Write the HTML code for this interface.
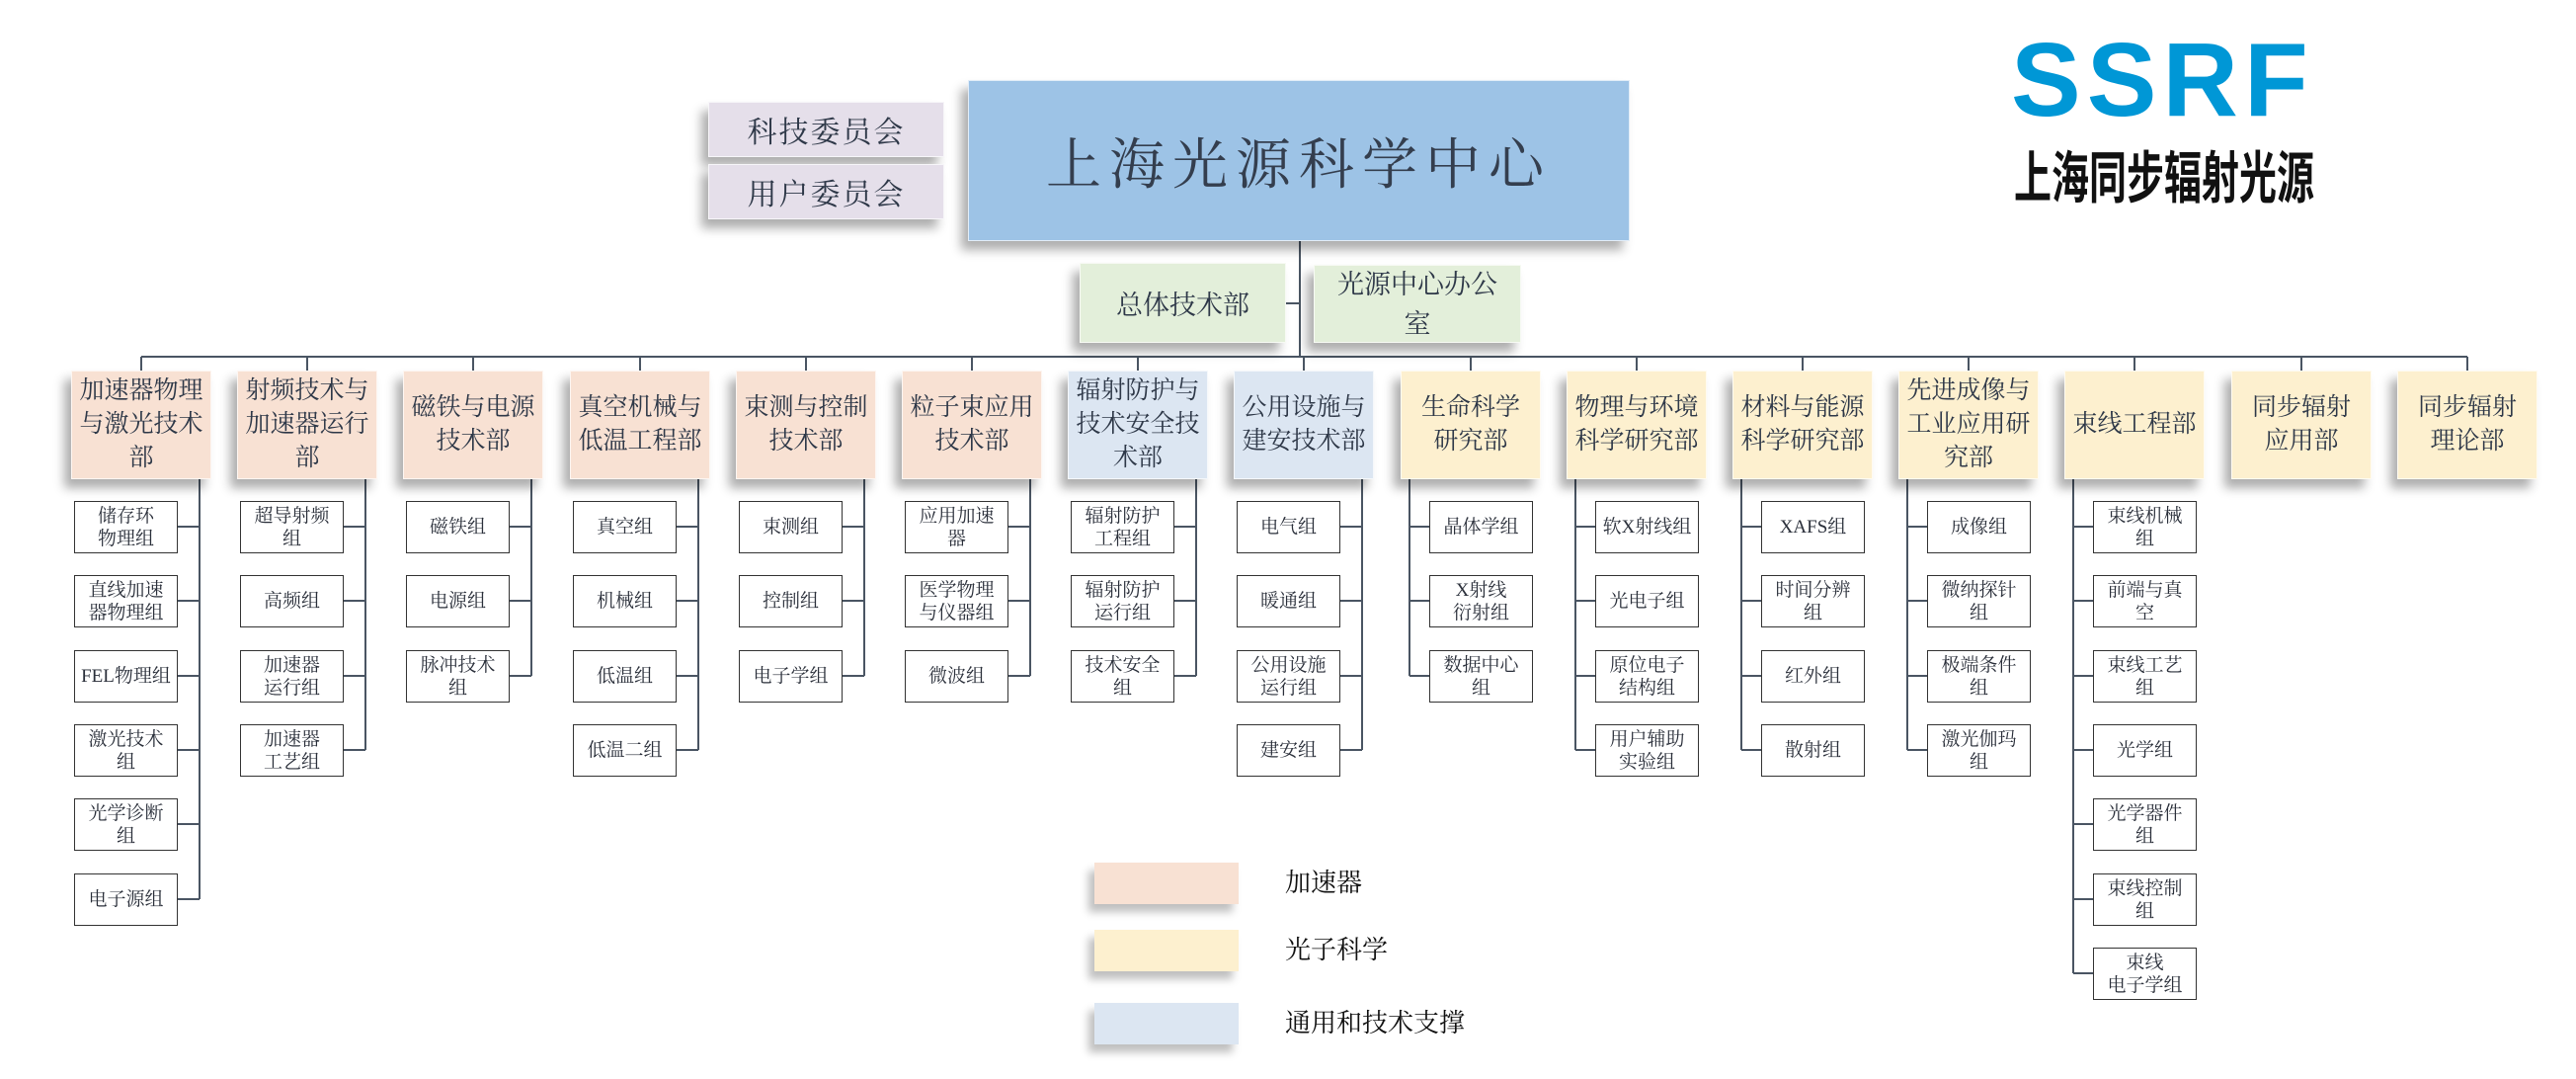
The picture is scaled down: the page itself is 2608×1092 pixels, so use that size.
<!DOCTYPE html>
<html><head><meta charset="utf-8">
<style>
body{margin:0;width:2608px;height:1092px;background:#fff;position:relative;overflow:hidden;font-family:"Liberation Serif","Noto Serif CJK SC",serif;color:#2e3848}
.b{position:absolute;display:flex;align-items:center;justify-content:center;text-align:center;box-sizing:border-box;box-shadow:-7px 9px 10px rgba(0,0,0,.32);border:1px solid rgba(255,255,255,.7)}
.d{width:142px;height:110px;top:375px;font-size:25px;line-height:34px}
.p{background:#f8e1d3}.u{background:#dce6f2}.y{background:#fdf0cf}
.g{position:absolute;width:105px;height:53px;border:1.5px solid #333;background:#fff;box-sizing:border-box;display:flex;align-items:center;justify-content:center;text-align:center;font-size:19px;line-height:23px;color:#2a2f3a}
svg{position:absolute;left:0;top:0}
.lg{position:absolute;width:146px;height:42px;box-shadow:-6px 8px 8px rgba(0,0,0,.25)}
.lt{position:absolute;left:1301px;font-size:26px;color:#111;line-height:42px}
</style></head><body>
<svg width="2608" height="1092">
<g stroke="#4a5563" stroke-width="2" fill="none">
<path d="M143 361H2498"/>
<path d="M1316 244V361M1302 307H1316M932 132H954"/>
<path d="M143 361V375M311 361V375M479 361V375M648 361V375M816 361V375M984 361V375M1152 361V375M1320 361V375M1489 361V375M1657 361V375M1825 361V375M1993 361V375M2161 361V375M2330 361V375M2498 361V375"/>
<path d="M202 485V910M180 533H202M180 608H202M180 684H202M180 759H202M180 834H202M180 910H202"/>
<path d="M370 485V759M348 533H370M348 608H370M348 684H370M348 759H370"/>
<path d="M538 485V684M516 533H538M516 608H538M516 684H538"/>
<path d="M707 485V759M685 533H707M685 608H707M685 684H707M685 759H707"/>
<path d="M875 485V684M853 533H875M853 608H875M853 684H875"/>
<path d="M1043 485V684M1021 533H1043M1021 608H1043M1021 684H1043"/>
<path d="M1211 485V684M1189 533H1211M1189 608H1211M1189 684H1211"/>
<path d="M1379 485V759M1357 533H1379M1357 608H1379M1357 684H1379M1357 759H1379"/>
<path d="M1427 485V684M1427 533H1447M1427 608H1447M1427 684H1447"/>
<path d="M1595 485V759M1595 533H1615M1595 608H1615M1595 684H1615M1595 759H1615"/>
<path d="M1763 485V759M1763 533H1783M1763 608H1783M1763 684H1783M1763 759H1783"/>
<path d="M1931 485V759M1931 533H1951M1931 608H1951M1931 684H1951M1931 759H1951"/>
<path d="M2099 485V985M2099 533H2119M2099 608H2119M2099 684H2119M2099 759H2119M2099 834H2119M2099 910H2119M2099 985H2119"/>
</g></svg>

<div class="b" style="left:980px;top:81px;width:670px;height:163px;background:#9dc3e6;font-size:56px;letter-spacing:8px;color:#343e4e">上海光源科学中心</div>
<div class="b" style="left:717px;top:103px;width:239px;height:56px;background:#e5dfea;font-size:30px;letter-spacing:2px">科技委员会</div>
<div class="b" style="left:717px;top:166px;width:239px;height:56px;background:#e5dfea;font-size:30px;letter-spacing:2px">用户委员会</div>
<div class="b" style="left:1093px;top:266px;width:209px;height:81px;background:#e3efda;font-size:27px">总体技术部</div>
<div class="b" style="left:1330px;top:268px;width:210px;height:79px;background:#e3efda;font-size:27px;line-height:40px">光源中心办公<br>室</div>

<div style="position:absolute;left:2036px;top:28px;font-family:'Liberation Sans',sans-serif;font-weight:bold;font-size:106px;line-height:106px;color:#0097d6;letter-spacing:6px">SSRF</div>
<div style="position:absolute;left:2039px;top:145px;width:304px;height:62px;font-family:'Noto Sans CJK SC',sans-serif;font-weight:bold;font-size:38px;line-height:62px;color:#111;transform:scaleY(1.5);transform-origin:center;white-space:nowrap;text-align:center">上海同步辐射光源</div>

<div class="b d p" style="left:72px">加速器物理<br>与激光技术<br>部</div>
<div class="b d p" style="left:240px">射频技术与<br>加速器运行<br>部</div>
<div class="b d p" style="left:408px">磁铁与电源<br>技术部</div>
<div class="b d p" style="left:577px">真空机械与<br>低温工程部</div>
<div class="b d p" style="left:745px">束测与控制<br>技术部</div>
<div class="b d p" style="left:913px">粒子束应用<br>技术部</div>
<div class="b d u" style="left:1081px">辐射防护与<br>技术安全技<br>术部</div>
<div class="b d u" style="left:1249px">公用设施与<br>建安技术部</div>
<div class="b d y" style="left:1418px">生命科学<br>研究部</div>
<div class="b d y" style="left:1586px">物理与环境<br>科学研究部</div>
<div class="b d y" style="left:1754px">材料与能源<br>科学研究部</div>
<div class="b d y" style="left:1922px">先进成像与<br>工业应用研<br>究部</div>
<div class="b d y" style="left:2090px">束线工程部</div>
<div class="b d y" style="left:2259px">同步辐射<br>应用部</div>
<div class="b d y" style="left:2427px">同步辐射<br>理论部</div>

<div class="g" style="left:75px;top:507px">储存环<br>物理组</div>
<div class="g" style="left:75px;top:582px">直线加速<br>器物理组</div>
<div class="g" style="left:75px;top:658px">FEL物理组</div>
<div class="g" style="left:75px;top:733px">激光技术<br>组</div>
<div class="g" style="left:75px;top:808px">光学诊断<br>组</div>
<div class="g" style="left:75px;top:884px">电子源组</div>

<div class="g" style="left:243px;top:507px">超导射频<br>组</div>
<div class="g" style="left:243px;top:582px">高频组</div>
<div class="g" style="left:243px;top:658px">加速器<br>运行组</div>
<div class="g" style="left:243px;top:733px">加速器<br>工艺组</div>

<div class="g" style="left:411px;top:507px">磁铁组</div>
<div class="g" style="left:411px;top:582px">电源组</div>
<div class="g" style="left:411px;top:658px">脉冲技术<br>组</div>

<div class="g" style="left:580px;top:507px">真空组</div>
<div class="g" style="left:580px;top:582px">机械组</div>
<div class="g" style="left:580px;top:658px">低温组</div>
<div class="g" style="left:580px;top:733px">低温二组</div>

<div class="g" style="left:748px;top:507px">束测组</div>
<div class="g" style="left:748px;top:582px">控制组</div>
<div class="g" style="left:748px;top:658px">电子学组</div>

<div class="g" style="left:916px;top:507px">应用加速<br>器</div>
<div class="g" style="left:916px;top:582px">医学物理<br>与仪器组</div>
<div class="g" style="left:916px;top:658px">微波组</div>

<div class="g" style="left:1084px;top:507px">辐射防护<br>工程组</div>
<div class="g" style="left:1084px;top:582px">辐射防护<br>运行组</div>
<div class="g" style="left:1084px;top:658px">技术安全<br>组</div>

<div class="g" style="left:1252px;top:507px">电气组</div>
<div class="g" style="left:1252px;top:582px">暖通组</div>
<div class="g" style="left:1252px;top:658px">公用设施<br>运行组</div>
<div class="g" style="left:1252px;top:733px">建安组</div>

<div class="g" style="left:1447px;top:507px">晶体学组</div>
<div class="g" style="left:1447px;top:582px">X射线<br>衍射组</div>
<div class="g" style="left:1447px;top:658px">数据中心<br>组</div>

<div class="g" style="left:1615px;top:507px">软X射线组</div>
<div class="g" style="left:1615px;top:582px">光电子组</div>
<div class="g" style="left:1615px;top:658px">原位电子<br>结构组</div>
<div class="g" style="left:1615px;top:733px">用户辅助<br>实验组</div>

<div class="g" style="left:1783px;top:507px">XAFS组</div>
<div class="g" style="left:1783px;top:582px">时间分辨<br>组</div>
<div class="g" style="left:1783px;top:658px">红外组</div>
<div class="g" style="left:1783px;top:733px">散射组</div>

<div class="g" style="left:1951px;top:507px">成像组</div>
<div class="g" style="left:1951px;top:582px">微纳探针<br>组</div>
<div class="g" style="left:1951px;top:658px">极端条件<br>组</div>
<div class="g" style="left:1951px;top:733px">激光伽玛<br>组</div>

<div class="g" style="left:2119px;top:507px">束线机械<br>组</div>
<div class="g" style="left:2119px;top:582px">前端与真<br>空</div>
<div class="g" style="left:2119px;top:658px">束线工艺<br>组</div>
<div class="g" style="left:2119px;top:733px">光学组</div>
<div class="g" style="left:2119px;top:808px">光学器件<br>组</div>
<div class="g" style="left:2119px;top:884px">束线控制<br>组</div>
<div class="g" style="left:2119px;top:959px">束线<br>电子学组</div>

<div class="lg" style="left:1108px;top:873px;background:#f8e1d3"></div>
<div class="lg" style="left:1108px;top:941px;background:#fdf0cf"></div>
<div class="lg" style="left:1108px;top:1015px;background:#dce6f2"></div>
<div class="lt" style="top:873px">加速器</div>
<div class="lt" style="top:941px">光子科学</div>
<div class="lt" style="top:1015px">通用和技术支撑</div>
</body></html>
